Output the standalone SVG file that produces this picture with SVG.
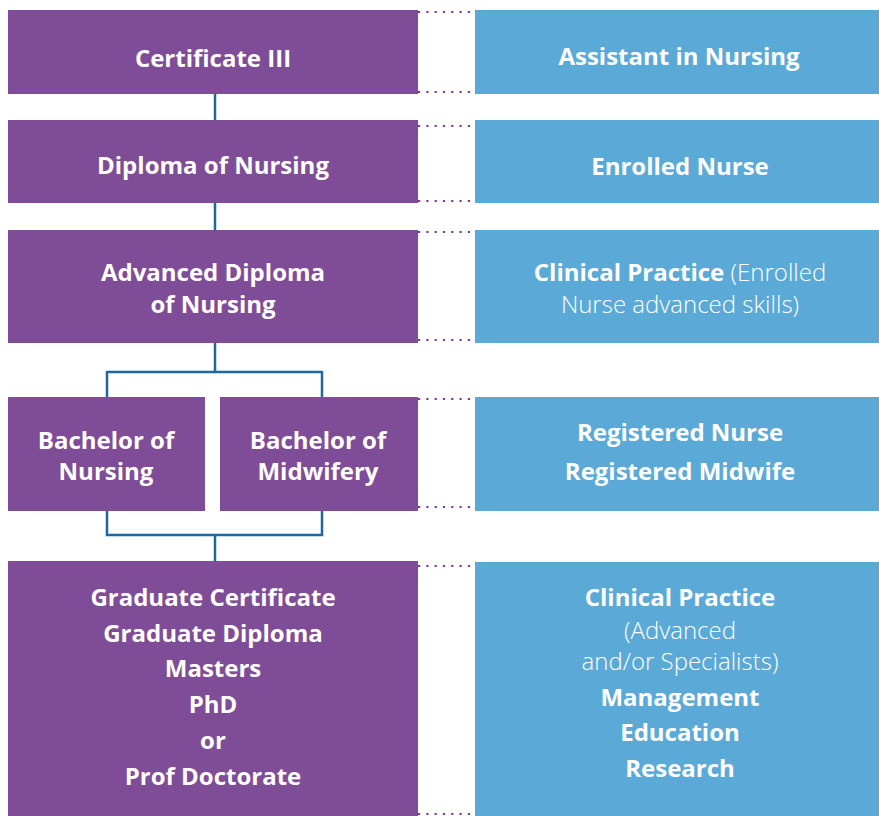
<svg xmlns="http://www.w3.org/2000/svg" width="879" height="816" viewBox="0 0 879 816">
<style>
.p{fill:#7f4d97}
.b{fill:#5ba9d7}
.t{font-family:"Open Sans","DejaVu Sans",sans-serif;font-size:24px;font-weight:700;fill:#fff;text-anchor:middle}
.l{font-weight:300}
.c{fill:none;stroke:#2067a0;stroke-width:2.5}
.d{fill:none;stroke:#7a3b92;stroke-width:2.2;stroke-dasharray:2.2 6.1}
</style>
<rect width="879" height="816" fill="#fff"/>
<g id="dots">
<path class="d" d="M418 12H476M418 92H476M418 126H476M418 201H476M418 232H476M418 340H476M418 399H476M418 507H476M418 566H476M418 814H476"/>
</g>
<g id="connectors">
<path class="c" d="M215 94V120M215 203V230M215 343V372M107 372H322M107 371V397M322 371V397M107 510V535H322V510M215 535V561"/>
</g>
<g id="cert3"><rect class="p" x="8" y="10" width="410" height="84"/><text class="t" x="213" y="67">Certificate III</text></g>
<g id="ain"><rect class="b" x="475" y="10" width="404" height="84"/><text class="t" x="679" y="65">Assistant in Nursing</text></g>
<g id="dipl"><rect class="p" x="8" y="120" width="410" height="83"/><text class="t" x="213" y="174">Diploma of Nursing</text></g>
<g id="en"><rect class="b" x="475" y="120" width="404" height="83"/><text class="t" x="680" y="175">Enrolled Nurse</text></g>
<g id="adv"><rect class="p" x="8" y="230" width="410" height="113"/><text class="t" x="213" y="281">Advanced Diploma</text><text class="t" x="213" y="313">of Nursing</text></g>
<g id="cp1"><rect class="b" x="475" y="230" width="404" height="113"/><text class="t" x="680" y="281">Clinical Practice <tspan class="l">(Enrolled</tspan></text><text class="t l" x="680" y="313">Nurse advanced skills)</text></g>
<g id="bn"><rect class="p" x="8" y="397" width="197" height="114"/><text class="t" x="106" y="449">Bachelor of</text><text class="t" x="106" y="480">Nursing</text></g>
<g id="bm"><rect class="p" x="220" y="397" width="198" height="114"/><text class="t" x="318" y="449">Bachelor of</text><text class="t" x="318" y="480">Midwifery</text></g>
<g id="rn"><rect class="b" x="475" y="397" width="404" height="114"/><text class="t" x="680" y="441">Registered Nurse</text><text class="t" x="680" y="480">Registered Midwife</text></g>
<g id="grad"><rect class="p" x="8" y="561" width="410" height="255"/>
<text class="t" x="213" y="606">Graduate Certificate</text>
<text class="t" x="213" y="642">Graduate Diploma</text>
<text class="t" x="213" y="677">Masters</text>
<text class="t" x="213" y="713">PhD</text>
<text class="t" x="213" y="749">or</text>
<text class="t" x="213" y="785">Prof Doctorate</text></g>
<g id="cp2"><rect class="b" x="475" y="562" width="404" height="254"/>
<text class="t" x="680" y="606">Clinical Practice</text>
<text class="t l" x="680" y="639">(Advanced</text>
<text class="t l" x="680" y="670">and/or Specialists)</text>
<text class="t" x="680" y="706">Management</text>
<text class="t" x="680" y="741">Education</text>
<text class="t" x="680" y="777">Research</text></g>
</svg>
